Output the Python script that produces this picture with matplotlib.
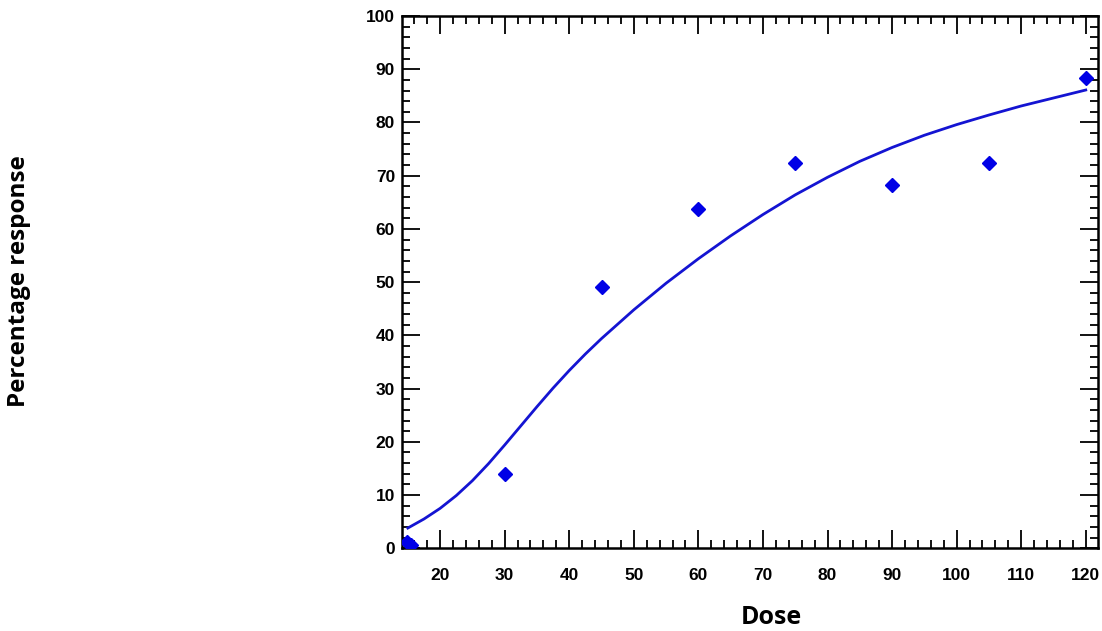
import matplotlib.pyplot as plt
import numpy as np
from matplotlib.ticker import MultipleLocator

# observed responses
dose = [14.9, 15.5, 30, 45, 60, 75, 90, 105, 120]
response = [1.2, 0.6, 14.0, 49.0, 63.7, 72.4, 68.2, 72.4, 88.3]

# fitted curve
fit_dose = [15, 17.5, 20, 22.5, 25, 27.5, 30, 32.5, 35, 37.5, 40, 42.5, 45,
            50, 55, 60, 65, 70, 75, 80, 85, 90, 95, 100, 105, 110, 115, 120]
fit_resp = [3.8, 5.5, 7.5, 9.9, 12.7, 15.9, 19.4, 23.0, 26.6, 30.1, 33.4,
            36.5, 39.4, 44.8, 49.8, 54.4, 58.7, 62.7, 66.4, 69.7, 72.7,
            75.3, 77.6, 79.6, 81.4, 83.1, 84.6, 86.1]

fig = plt.figure(figsize=(11.02, 6.31), dpi=100)
ax = fig.add_axes([0.3648, 0.1311, 0.6316, 0.8435])

ax.plot(fit_dose, fit_resp, color='#1414d2', lw=2.0, zorder=2,
        solid_joinstyle='round')
ax.plot(dose, response, ls='none', marker='D', ms=7, color='#0000e6',
        zorder=3)

ax.set_xlim(14.1, 121.9)
ax.set_ylim(0, 100)
ax.xaxis.set_major_locator(MultipleLocator(10))
ax.xaxis.set_minor_locator(MultipleLocator(2))
ax.yaxis.set_major_locator(MultipleLocator(10))
ax.yaxis.set_minor_locator(MultipleLocator(2))

ax.tick_params(which='both', direction='in', top=True, right=True,
               color='black', width=1.3)
ax.tick_params(which='major', length=13)
ax.tick_params(which='minor', length=6)
ax.tick_params(axis='x', which='major', pad=14)
ax.tick_params(axis='y', which='major', pad=5)
for lab in ax.get_xticklabels() + ax.get_yticklabels():
    lab.set_fontfamily('Liberation Sans')
    lab.set_fontweight('bold')
    lab.set_fontsize(12.5)

for s in ax.spines.values():
    s.set_linewidth(1.8)

fig.text(0.6996, 0.022, 'Dose', ha='center', va='center', fontsize=18,
         fontweight='bold', family='Open Sans')
fig.text(0.017, 0.555, 'Percentage response', rotation=90, ha='center',
         va='center', fontsize=17.5, fontweight='bold', family='Open Sans')

fig.savefig('out.png', dpi=100)
